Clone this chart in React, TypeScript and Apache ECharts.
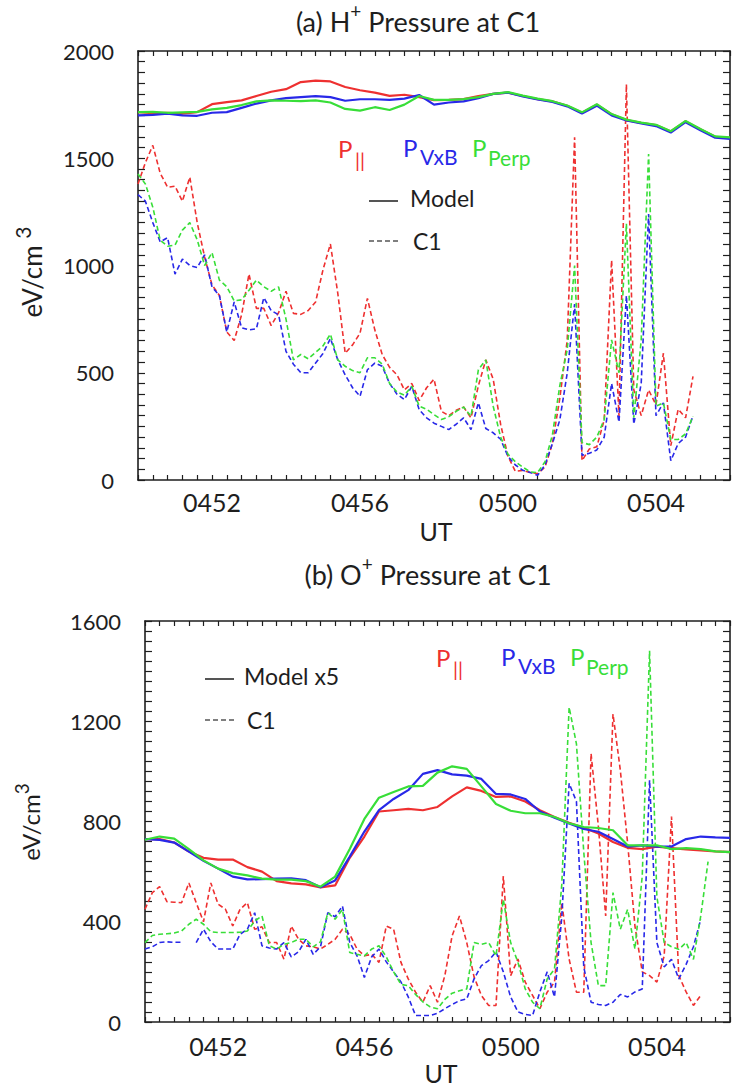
import React, { useEffect, useRef } from "react";
import * as echarts from "echarts";

// Time axis: seconds after 04:50:00 UT
const X_MIN = 0;
const X_MAX = 960;
const X_TICK = 24;
const xLabelSec = [120, 360, 600, 840];
const xLabelText = ["0452", "0456", "0500", "0504"];

const yLabelsH = [0, 500, 1000, 1500, 2000];
const yLabelsO = [0, 400, 800, 1200, 1600];

const MODEL_STEP = 24; // s
const C1_STEP = 12; // s

// (a) H+ pressure, model
const hModelPar = [1715,1710,1712,1708,1715,1752,1762,1770,1790,1810,1822,1855,1862,1858,1832,1817,1806,1791,1796,1785,1771,1772,1776,1790,1800,1806,1790,1776,1765,1745,1712,1750,1705,1678,1665,1655,1625,1672,1635,1600,1595];
const hModelVxB = [1700,1702,1708,1700,1698,1712,1715,1735,1755,1770,1780,1785,1790,1785,1768,1775,1775,1772,1778,1795,1750,1760,1765,1780,1800,1806,1788,1774,1763,1742,1708,1745,1700,1676,1662,1650,1620,1668,1630,1596,1590];
const hModelPerp = [1715,1716,1712,1714,1716,1728,1735,1748,1765,1770,1768,1766,1770,1760,1730,1722,1738,1725,1750,1790,1772,1772,1776,1785,1800,1808,1792,1778,1766,1746,1714,1752,1706,1680,1666,1656,1626,1674,1636,1602,1597];

// (a) H+ pressure, C1
const hC1Par = [1380,1480,1560,1430,1365,1370,1300,1412,1200,1040, 910,860,690,650,770,960,800,800,720,780, 880,777,772,790,830,980,1100,870,591,630, 684,847,700,585,525,490,420,450,370,430, 470,320,300,325,340,290,440,560,470,260, 110,40,45,35,30,60,170,380,650,1598, 90,145,155,280,1025,297,1845,421,300,420, 350,591,160,330,290,483];
const hC1VxB = [1330,1300,1200,1110,1130,960,1030,1000,990,1050, 900,860,690,830,710,700,705,850,790,770, 600,540,500,500,545,590,660,560,490,430, 390,514,545,530,450,400,375,437,328,290, 265,250,235,260,290,235,360,240,220,190, 110,70,45,35,22,70,170,280,498,820, 115,125,140,200,450,270,860,260,450,1240, 300,360,90,170,200,300];
const hC1Perp = [1427,1380,1272,1118,1090,1095,1165,1200,1120,1000, 1060,932,901,835,840,885,932,901,880,900, 750,560,585,565,595,625,680,560,530,510, 500,570,570,540,450,410,395,437,344,330, 305,282,295,320,340,297,514,560,344,200, 120,85,60,38,34,85,210,440,607,1000, 175,165,200,282,653,500,1195,290,653,1520, 344,360,189,189,215,297];

// (b) O+ pressure, model x5
const oModelPar = [730,730,716,680,655,648,648,618,600,562,553,549,537,545,655,740,840,845,850,845,858,900,936,922,898,900,880,845,818,795,775,752,718,695,690,700,694,689,685,681,678];
const oModelVxB = [730,727,716,680,643,612,580,569,570,572,573,566,538,565,660,760,845,890,925,990,1005,988,983,970,910,908,890,840,815,792,770,759,730,700,705,700,700,730,740,737,735];
const oModelPerp = [727,740,732,690,645,612,594,585,572,568,568,562,540,580,690,810,895,918,940,942,995,1020,1010,940,870,843,833,833,818,793,778,774,765,705,705,705,690,694,690,681,678];

// (b) O+ pressure, C1
const oC1Par = [450,516,540,480,478,476,555,476,400,555, 470,450,383,450,476,370,380,317,317,251, 383,330,304,300,291,310,330,370,350,291, 264,270,238,383,370,238,172,119,79,145, 79,185,344,423,317,180,106,66,66,582, 185,251,159,106,53,119,159,476,251,119, 119,1071,780,423,1229,1005,714,383,200,185, 159,264,820,185,120,66,106];
const oC1VxB = [291,300,317,320,318,318,null,317,370,320, 291,291,291,350,370,436,304,295,291,317, 260,280,330,270,300,436,420,463,317,264, 178,260,291,240,200,160,100,26,26,26, 35,53,70,85,92,172,225,245,280,200, 100,40,30,26,120,200,100,420,952,880, 220,79,70,66,79,110,100,120,132,965, 317,220,250,172,230,300,410];
const oC1Perp = [317,345,350,352,355,363,390,410,390,360, 357,357,357,358,363,403,423,304,291,310, 317,330,330,300,320,436,410,449,277,270, 264,291,304,260,200,150,145,110,80,60, 53,90,115,125,132,317,310,317,264,489, 317,238,132,79,53,172,211,550,1256,1110, 680,317,145,145,516,370,449,291,582,1481, 500,317,300,290,317,250,423,640];

const RED = "#ee3030";
const BLUE = "#2828e8";
const GREEN = "#38de38";
const INK = "#1e1e1e";
const GRAY = "#555555";
const FONT = "Lato, 'Open Sans', sans-serif";

const toPairs = (vals: (number | null)[], step: number) =>
  vals.map((v, i) => [i * step, v == null ? "-" : v]);

function xAxis(grid: number, pos: string, showLabel: boolean, margin: number) {
  return {
    type: "value",
    gridIndex: grid,
    position: pos,
    min: X_MIN,
    max: X_MAX,
    interval: X_TICK,
    axisLine: { show: true, onZero: false, lineStyle: { color: INK, width: 1.6 } },
    axisTick: { show: true, inside: true, length: 5, lineStyle: { color: INK, width: 1.2 } },
    axisLabel: {
      show: showLabel,
      margin,
      color: INK,
      fontSize: 25,
      fontFamily: FONT,
      showMinLabel: true,
      showMaxLabel: true,
      formatter: (v: number) => {
        const k = xLabelSec.indexOf(Math.round(v));
        return k >= 0 ? xLabelText[k] : "";
      },
    },
    splitLine: { show: false },
  };
}

function yAxis(grid: number, pos: string, showLabel: boolean, max: number, step: number, labels: number[]) {
  return {
    type: "value",
    gridIndex: grid,
    position: pos,
    min: 0,
    max,
    interval: step,
    axisLine: { show: true, onZero: false, lineStyle: { color: INK, width: 1.6 } },
    axisTick: { show: true, inside: true, length: 7, lineStyle: { color: INK, width: 1.2 } },
    axisLabel: {
      show: showLabel,
      margin: 24,
      color: INK,
      fontSize: 22,
      fontFamily: FONT,
      showMinLabel: true,
      showMaxLabel: true,
      formatter: (v: number) => (labels.indexOf(Math.round(v)) >= 0 ? String(Math.round(v)) : ""),
    },
    splitLine: { show: false },
  };
}

function line(name: string, vals: (number | null)[], step: number, color: string, dashed: boolean, xi: number, yi: number, z: number) {
  return {
    name,
    type: "line",
    xAxisIndex: xi,
    yAxisIndex: yi,
    data: toPairs(vals, step),
    showSymbol: false,
    symbol: "none",
    connectNulls: false,
    z,
    lineStyle: { color, width: dashed ? 1.6 : 2.2, type: dashed ? [5, 3] : "solid" },
  };
}

function txt(x: number, y: number, text: string, size: number, color: string, align = "left") {
  return {
    type: "text",
    x,
    y,
    silent: true,
    style: { text, fontSize: size, fontFamily: FONT, fill: color, align, verticalAlign: "middle" },
  };
}

function legendBlock(px: number, py: number) {
  return [
    txt(px, py, "P", 24, RED),
    txt(px + 17, py + 12, "||", 20, RED),
    txt(px + 65, py - 1, "P", 24, BLUE),
    txt(px + 82, py + 8, "VxB", 21, BLUE),
    txt(px + 134, py - 1, "P", 24, GREEN),
    txt(px + 150, py + 9, "Perp", 21, GREEN),
  ];
}

function styleLegend(lx: number, ly: number, gap: number, label: string, textDx: number) {
  return [
    { type: "line", silent: true, shape: { x1: lx, y1: ly, x2: lx + 29, y2: ly }, style: { stroke: GRAY, lineWidth: 2 } },
    txt(lx + textDx, ly - 3, label, 23, INK),
    { type: "line", silent: true, shape: { x1: lx, y1: ly + gap, x2: lx + 29, y2: ly + gap }, style: { stroke: GRAY, lineWidth: 1.6, lineDash: [5, 3] } },
    txt(lx + textDx + 3, ly + gap, "C1", 23, INK),
  ];
}

function supText(x: number, y: number, main1: string, sup: string, main2: string, size: number, supSize: number, rotation = 0) {
  const parts = `{m|${main1}}{s|${sup}}` + (main2 ? `{m|${main2}}` : "");
  return {
    type: "text",
    x,
    y,
    rotation,
    silent: true,
    style: {
      text: parts,
      align: "center",
      verticalAlign: "middle",
      rich: {
        m: { fontSize: size, fontFamily: FONT, fill: INK, verticalAlign: "bottom", lineHeight: Math.round(size * 1.25) },
        s: { fontSize: supSize, fontFamily: FONT, fill: INK, verticalAlign: "top", lineHeight: supSize },
      },
    },
  };
}

export default function App() {
  const ref = useRef<HTMLDivElement>(null);
  useEffect(() => {
    if (!ref.current) return;
    const chart = echarts.init(ref.current, undefined, { renderer: "svg" });
    const option = {
      animation: false,
      backgroundColor: "#ffffff",
      grid: [
        { left: 138, top: 51, width: 593, height: 429 },
        { left: 145, top: 621, width: 587, height: 401 },
      ],
      xAxis: [
        xAxis(0, "bottom", true, 9),
        xAxis(0, "top", false, 8),
        xAxis(1, "bottom", true, 11),
        xAxis(1, "top", false, 8),
      ],
      yAxis: [
        yAxis(0, "left", true, 2000, 50, yLabelsH),
        yAxis(0, "right", false, 2000, 50, yLabelsH),
        yAxis(1, "left", true, 1600, 40, yLabelsO),
        yAxis(1, "right", false, 1600, 40, yLabelsO),
      ],
      series: [
        line("H C1 Par", hC1Par, C1_STEP, RED, true, 0, 0, 2),
        line("H C1 VxB", hC1VxB, C1_STEP, BLUE, true, 0, 0, 3),
        line("H C1 Perp", hC1Perp, C1_STEP, GREEN, true, 0, 0, 4),
        line("H Model Par", hModelPar, MODEL_STEP, RED, false, 0, 0, 5),
        line("H Model VxB", hModelVxB, MODEL_STEP, BLUE, false, 0, 0, 6),
        line("H Model Perp", hModelPerp, MODEL_STEP, GREEN, false, 0, 0, 7),
        line("O C1 Par", oC1Par, C1_STEP, RED, true, 2, 2, 2),
        line("O C1 VxB", oC1VxB, C1_STEP, BLUE, true, 2, 2, 3),
        line("O C1 Perp", oC1Perp, C1_STEP, GREEN, true, 2, 2, 4),
        line("O Model Par", oModelPar, MODEL_STEP, RED, false, 2, 2, 5),
        line("O Model VxB", oModelVxB, MODEL_STEP, BLUE, false, 2, 2, 6),
        line("O Model Perp", oModelPerp, MODEL_STEP, GREEN, false, 2, 2, 7),
      ],
      graphic: [
        supText(418, 18, "(a) H", "+", " Pressure at C1", 27, 19),
        supText(428, 571, "(b) O", "+", " Pressure at C1", 27, 19),
        txt(436, 531, "UT", 25, INK, "center"),
        txt(441, 1073, "UT", 25, INK, "center"),
        supText(28, 272, "eV/cm ", "3", "", 26, 21, Math.PI / 2),
        supText(27, 822, "eV/cm", "3", "", 24, 19, Math.PI / 2),
        ...legendBlock(338, 148),
        ...legendBlock(436, 657),
        ...styleLegend(369, 201, 40, "Model", 41),
        ...styleLegend(205, 679, 41, "Model x5", 39),
      ],
    };
    chart.setOption(option as any);
    return () => chart.dispose();
  }, []);
  return (
    <div
      ref={ref}
      style={{ position: "absolute", left: 0, top: 0, width: 733, height: 1089, background: "#fff" }}
    />
  );
}
